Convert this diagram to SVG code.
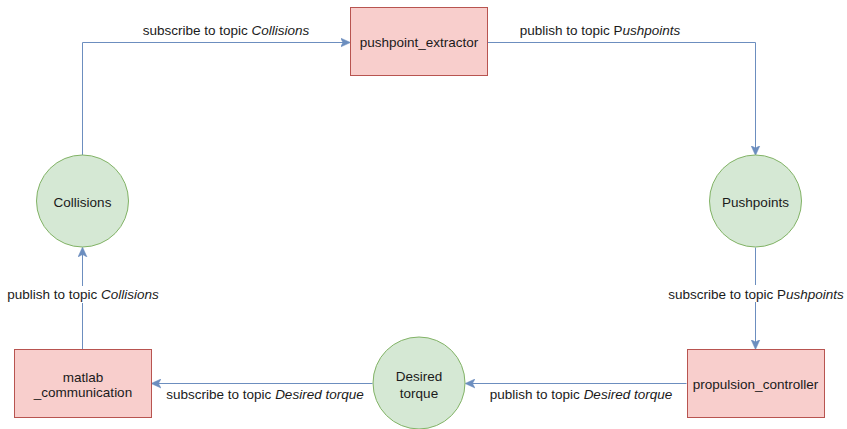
<svg xmlns="http://www.w3.org/2000/svg" width="847" height="429" viewBox="0 0 847 429">
<defs>
<marker id="arr" viewBox="0 0 10 10" refX="9" refY="5" markerWidth="10" markerHeight="10" markerUnits="userSpaceOnUse" orient="auto">
<path d="M0,0.5 L10,5 L0,9.5 L2.5,5 Z" fill="#6c8ebf" stroke="#6c8ebf" stroke-width="0.5"/>
</marker>
<style>
.proc{fill:#f8cecc;stroke:#b85450;stroke-width:1}
.topic{fill:#d5e8d4;stroke:#82b366;stroke-width:1}
.edge{fill:none;stroke:#6c8ebf;stroke-width:1;marker-end:url(#arr)}
text{font-family:"Liberation Sans",Arial,sans-serif;font-size:13.5px;fill:#1a1a1a}
.c{text-anchor:middle}
.lbg{fill:#ffffff}
</style>
</defs>
<rect width="847" height="429" fill="#ffffff"/>
<g id="connectors">
<path class="edge" d="M82.5,155 V42.5 H349.5"/>
<path class="edge" d="M487.5,42.5 H755.5 V154.5"/>
<path class="edge" d="M755.5,247.5 V348.5"/>
<path class="edge" d="M686.5,383.5 H466"/>
<path class="edge" d="M372.5,383.5 H152"/>
<path class="edge" d="M82.5,349 V248"/>
<text class="c" x="226" y="34.5">subscribe to topic <tspan font-style="italic">Collisions</tspan></text>
<text class="c" x="600" y="34.5">publish to topic P<tspan font-style="italic">ushpoints</tspan></text>
<rect class="lbg" x="664" y="285" width="183" height="17"/>
<text class="c" x="756" y="298.5">subscribe to topic P<tspan font-style="italic">ushpoints</tspan></text>
<rect class="lbg" x="3" y="286" width="160" height="17"/>
<text class="c" x="83" y="299">publish to topic <tspan font-style="italic">Collisions</tspan></text>
<text class="c" x="581" y="399">publish to topic <tspan font-style="italic">Desired torque</tspan></text>
<text class="c" x="265" y="399">subscribe to topic <tspan font-style="italic">Desired torque</tspan></text>
</g>
<g id="pushpoint_extractor">
<rect class="proc" x="350.5" y="7.5" width="137" height="68"/>
<text class="c" x="419" y="46.5">pushpoint_extractor</text>
</g>
<g id="Pushpoints">
<circle class="topic" cx="755.5" cy="201" r="46"/>
<text class="c" x="755.5" y="206.5">Pushpoints</text>
</g>
<g id="propulsion_controller">
<rect class="proc" x="687.5" y="349.5" width="137" height="68"/>
<text class="c" x="755.5" y="389">propulsion_controller</text>
</g>
<g id="Desired_torque">
<circle class="topic" cx="419" cy="383" r="46"/>
<text class="c" x="419" y="381">Desired</text>
<text class="c" x="419" y="397.5">torque</text>
</g>
<g id="matlab_communication">
<rect class="proc" x="14.5" y="349.5" width="137" height="68"/>
<text class="c" x="83" y="381.5">matlab</text>
<text class="c" x="83" y="397">_communication</text>
</g>
<g id="Collisions">
<circle class="topic" cx="82.5" cy="201" r="46"/>
<text class="c" x="82.5" y="206.5">Collisions</text>
</g>
</svg>
